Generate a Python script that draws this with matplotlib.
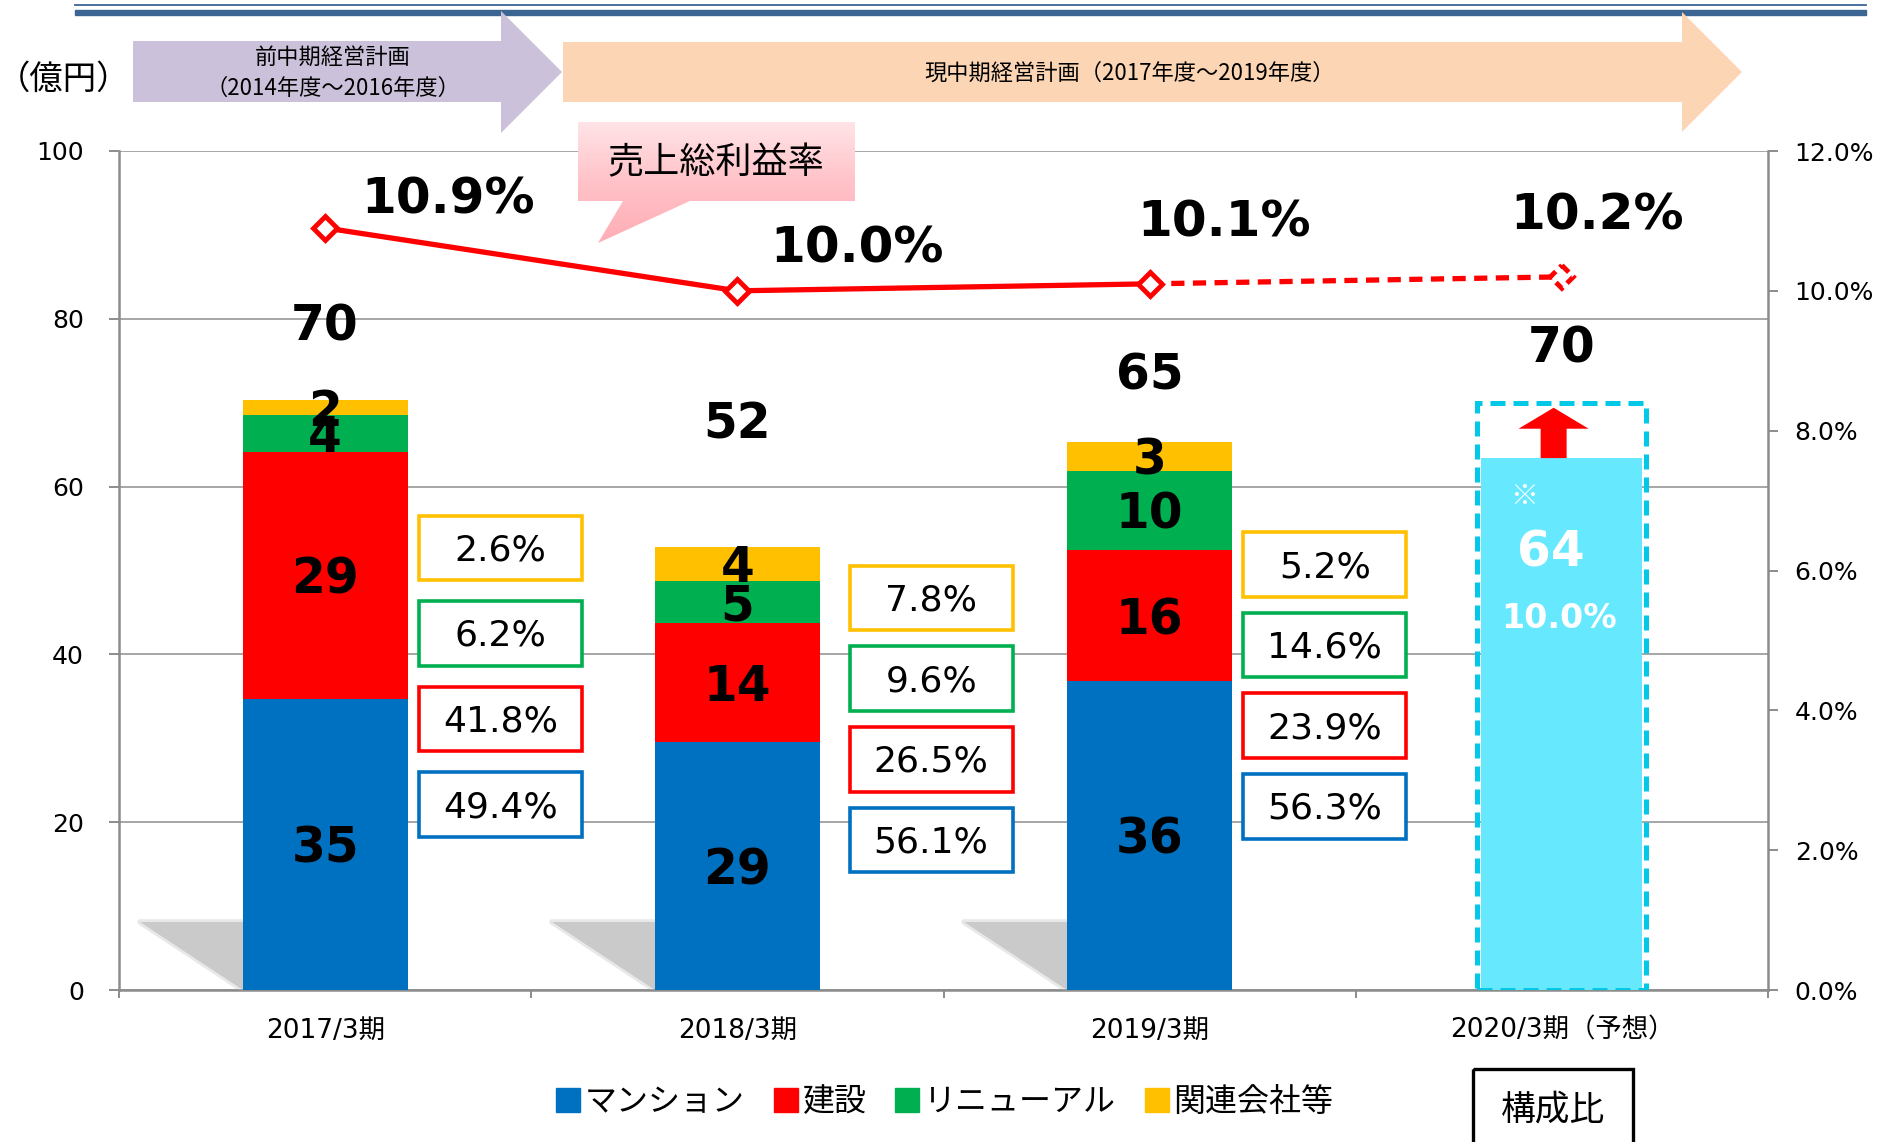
import numpy as np
import matplotlib.pyplot as plt
from matplotlib.patches import Rectangle, Polygon, Patch
from matplotlib.transforms import ScaledTranslation
from matplotlib.colors import LinearSegmentedColormap

plt.rcParams['font.family'] = ['DejaVu Sans', 'Noto Sans CJK JP']
JP = ['Noto Sans CJK JP', 'DejaVu Sans']

# --- data (億円) ---
periods = ['2017/3期', '2018/3期', '2019/3期', '2020/3期（予想）']
mansion = [34.7, 29.6, 36.8]
kensetsu = [29.4, 14.1, 15.6]
renewal = [4.4, 5.1, 9.5]
kanren = [1.8, 4.0, 3.4]
seg_text = [['35', '29', '4', '2'], ['29', '14', '5', '4'], ['36', '16', '10', '3']]
total_text = ['70', '52', '65', '70']
shares = [[49.4, 41.8, 6.2, 2.6], [56.1, 26.5, 9.6, 7.8], [56.3, 23.9, 14.6, 5.2]]
forecast_bar = 63.4
forecast_target = 70
forecast_text = '64'
forecast_rate = '10.0%'
margin = [10.9, 10.0, 10.1, 10.2]   # 売上総利益率 %

names = ['マンション', '建設', 'リニューアル', '関連会社等']
colors = ['#0070C0', '#FF0000', '#00B050', '#FFC000']
gray = '#8C8C8C'

fig = plt.figure(figsize=(18.99, 11.42), dpi=100)
ax = fig.add_axes([119/1899, 1-990/1142, (1768-119)/1899, (990-151)/1142])
x = np.arange(len(periods))

# soft shadows behind bars
for i in range(3):
    tri = [(i-0.45, 8.1), (i-0.2, 8.1), (i-0.2, 0)]
    ax.add_patch(Polygon(tri, closed=True, fc='#e2e2e2', ec='#e8e8e8', lw=4, joinstyle='round', zorder=2))
    ax.add_patch(Polygon(tri, closed=True, fc='#cacaca', ec='none', zorder=2))

# stacked bars
series = [mansion, kensetsu, renewal, kanren]
bottom = np.zeros(3)
for k, (vals, c) in enumerate(zip(series, colors)):
    vals = np.array(vals)
    ax.bar(x[:3], vals, 0.4, bottom=bottom, color=c, zorder=3)
    for i in range(3):
        ax.text(x[i], bottom[i] + vals[i]/2 - 0.5, seg_text[i][k], ha='center', va='center',
                fontsize=35, fontweight='bold', zorder=6)
    bottom += vals
tops = list(bottom) + [forecast_target]

total_dy = [8.8, 14.6, 7.9, 6.5]
for i in range(4):
    ax.text(x[i], tops[i] + total_dy[i], total_text[i], ha='center', va='center',
            fontsize=35, fontweight='bold', zorder=6)

# share boxes
box_dx = [0.425, 0.47, 0.425]
box_base = [22.1, 17.9, 21.9]
box_step = [10.2, 9.6, 9.6]
for i in range(3):
    for k in range(4):
        yc = box_base[i] + k*box_step[i]
        xc = x[i] + box_dx[i]
        ax.add_patch(Rectangle((xc-0.198, yc-3.85), 0.396, 7.7, fc='white', ec=colors[k], lw=2.6, zorder=5))
        ax.text(xc, yc - 0.3, f'{shares[i][k]:.1f}%', ha='center', va='center', fontsize=26, zorder=6)

# forecast
ax.bar(x[3], forecast_bar, 0.39, color='#66E8FF', zorder=3)
ax.add_patch(Rectangle((x[3]-0.205, 0), 0.41, forecast_target, fill=False, ec='#00C8E6',
                       lw=3.6, ls=(0, (3, 1.6)), zorder=4))
ax.arrow(x[3]-0.02, forecast_bar, 0, 69.4-forecast_bar, width=0.063, head_width=0.17,
         head_length=2.5, length_includes_head=True, fc='red', ec='none', zorder=5)
ax.text(x[3]-0.092, 58.8, '※', ha='center', va='center', fontsize=20, color='white', family=JP, zorder=6)
ax.text(x[3]-0.026, 52.1, forecast_text, ha='center', va='center', fontsize=35,
        fontweight='bold', color='white', zorder=6)
ax.text(x[3]-0.007, 44.3, forecast_rate, ha='center', va='center', fontsize=24,
        fontweight='bold', color='white', zorder=6)

ax.set_xlim(-0.5, 3.5)
ax.set_ylim(0, 100)
ax.set_yticks(np.arange(0, 101, 20))
ax.yaxis.grid(True, color='#A6A6A6', lw=1.4)
ax.set_axisbelow(True)
for s in ['top', 'right']:
    ax.spines[s].set_visible(False)
for s in ['left', 'bottom']:
    ax.spines[s].set_color(gray)
    ax.spines[s].set_linewidth(1.8)
ax.set_xticks(x, periods)
ax.set_xticks(np.arange(-0.5, 3.6, 1), minor=True)
ax.tick_params(axis='x', which='major', length=0, pad=20, labelsize=19)
ax.tick_params(axis='x', which='minor', length=6, width=1.4, color=gray)
ax.tick_params(axis='y', length=7.2, width=1.4, color=gray, labelsize=18, pad=18)

# gross margin line
ax2 = ax.twinx()
for s in ['top', 'left', 'bottom']:
    ax2.spines[s].set_visible(False)
ax2.spines['right'].set_color(gray)
ax2.spines['right'].set_linewidth(1.8)
ax2.plot(x[2:], margin[2:], color='red', lw=3.8, dashes=(2.5, 1.6), zorder=4)
ax2.plot(x[:3], margin[:3], color='red', lw=3.8, marker='D', ms=12, mfc='white', mew=3.5, zorder=5)
d = 0.115
tr = fig.dpi_scale_trans + ScaledTranslation(x[3], margin[3], ax2.transData)
ax2.add_patch(Polygon([(0, d), (d, 0), (0, -d), (-d, 0)], closed=True, fc='white', ec='red',
                      lw=3.5, ls=(0, (2, 1.2)), transform=tr, zorder=6))
lab_dx = [0.298, 0.29, 0.18, 0.085]
lab_dy = [0.40, 0.61, 0.88, 0.88]
for i in range(4):
    ax2.text(x[i] + lab_dx[i], margin[i] + lab_dy[i], f'{margin[i]:.1f}%', ha='center', va='center',
             fontsize=36, fontweight='bold', zorder=6)
ax2.set_ylim(0, 12)
ax2.set_yticks(np.arange(0, 12.1, 2))
ax2.set_yticklabels([f'{v:.1f}%' for v in np.arange(0, 12.1, 2)])
ax2.tick_params(axis='y', length=7.2, width=1.4, color=gray, labelsize=18, pad=12)
ax2.set_xlim(-0.5, 3.5)

# overlay (pixel coordinates) for header, callout and boxes
ov = fig.add_axes([0, 0, 1, 1], zorder=10)
ov.patch.set_visible(False)
ov.axis('off')
ov.plot([75, 1866], [4.5, 4.5], color='#3B6592', lw=1.3)
ov.add_patch(Rectangle((75, 9.5), 1791, 5.5, color='#3B6592'))
ov.add_patch(Polygon([(133, 41), (501, 41), (501, 11), (562, 72), (501, 133), (501, 102), (133, 102)],
                     closed=True, fc='#CCC1DA', ec='none'))
ov.add_patch(Polygon([(563, 42), (1682, 42), (1682, 12), (1742, 72), (1682, 132), (1682, 102), (563, 102)],
                     closed=True, fc='#FCD5B4', ec='none'))
ov.text(333, 57, '前中期経営計画', ha='center', va='center', fontsize=16, family=JP)
ov.text(333, 88, '（2014年度～2016年度）', ha='center', va='center', fontsize=16, family=JP)
ov.text(1130, 73, '現中期経営計画（2017年度～2019年度）', ha='center', va='center', fontsize=16, family=JP)
ov.text(64, 79, '（億円）', ha='center', va='center', fontsize=24, family=JP)

callout = Polygon([(578, 122), (855, 122), (855, 201), (690, 201), (598, 243), (623, 201), (578, 201)],
                  closed=True, fc='none', ec='none')
ov.add_patch(callout)
cm = LinearSegmentedColormap.from_list('pk', ['#FFE4E7', '#FFC2C8', '#FFADB6'])
im = ov.imshow(np.linspace(0, 1, 256).reshape(-1, 1), cmap=cm, extent=(578, 855, 243, 122),
               origin='upper', aspect='auto')
im.set_clip_path(callout)
ov.text(716, 163, '売上総利益率', ha='center', va='center', fontsize=26, family=JP)

ov.add_patch(Rectangle((1473, 1069), 160, 90, fill=False, ec='black', lw=2.4))
ov.text(1553, 1110, '構成比', ha='center', va='center', fontsize=25, family=JP)
ov.set_xlim(0, 1899)
ov.set_ylim(1142, 0)

handles = [Patch(color=c, label=n) for c, n in zip(colors, names)]
fig.legend(handles=handles, loc='center', bbox_to_anchor=(945/1899, 1-1102/1142), ncol=4,
           frameon=False, prop={'family': JP, 'size': 23}, handlelength=0.75, handleheight=0.75,
           handletextpad=0.15, columnspacing=0.9)

fig.savefig('out.png', dpi=100)
